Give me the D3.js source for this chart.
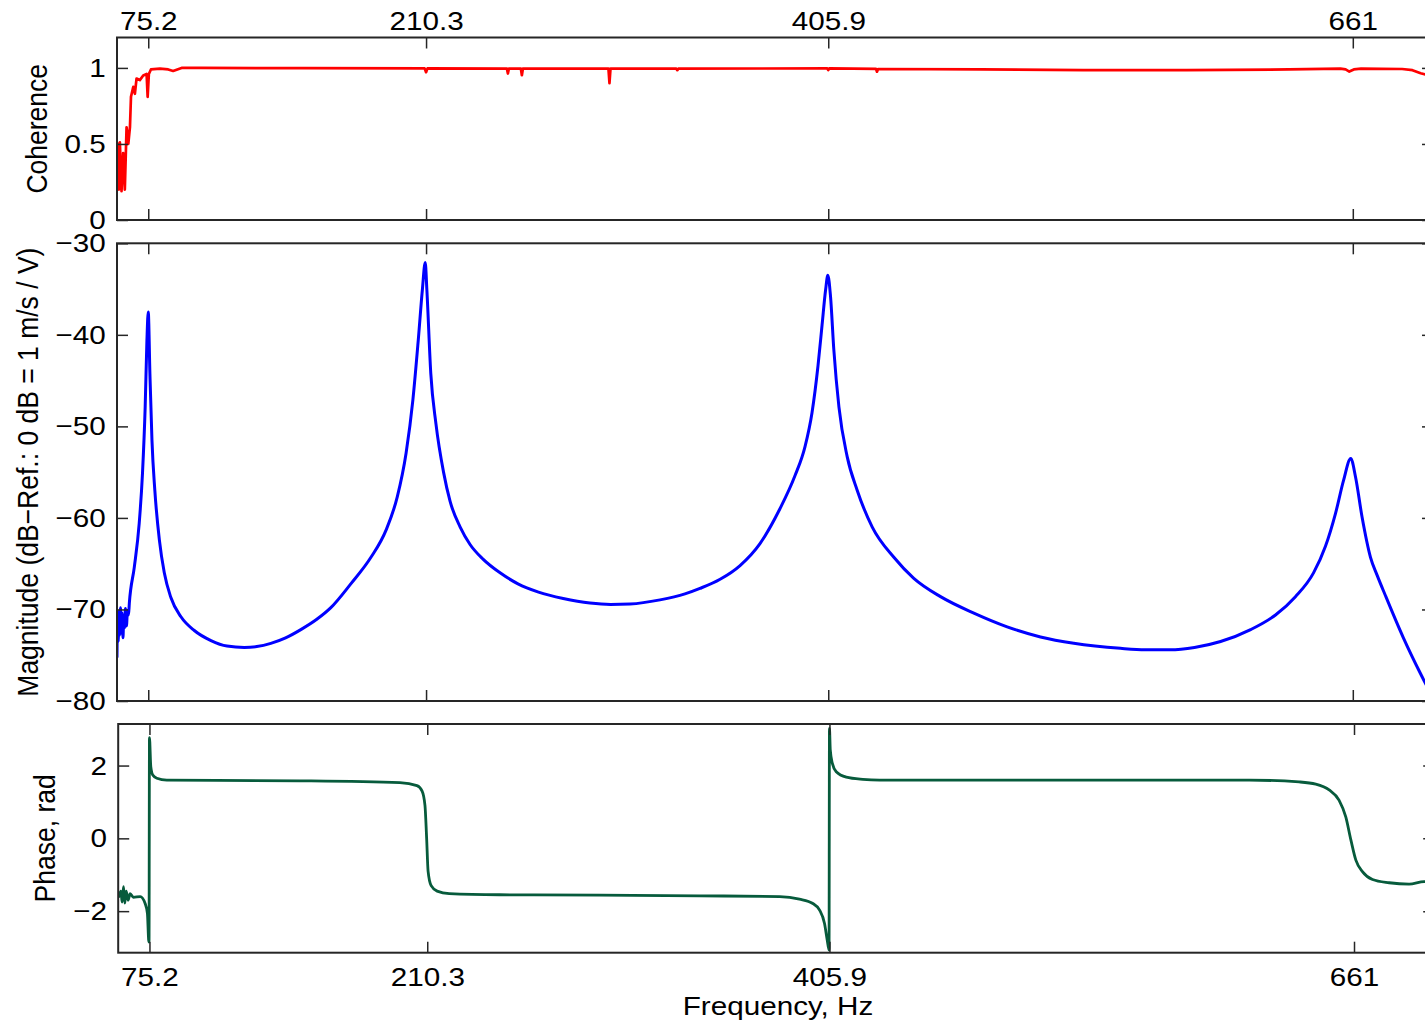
<!DOCTYPE html>
<html>
<head>
<meta charset="utf-8">
<script src="https://cdn.jsdelivr.net/npm/d3@7"></script>
<style>
  html, body { margin: 0; padding: 0; background: #fff; }
  svg { display: block; }
  text { font-family: "Liberation Sans", Arial, Helvetica, sans-serif; fill: #000; }
</style>
</head>
<body>
<svg id="chart" width="1425" height="1024"></svg>
<script>
// --- data ---
const xTicks = [75.2, 210.3, 405.9, 661];
const xTickLabels = ['75.2', '210.3', '405.9', '661'];

const cohTicks = [0, 0.5, 1];
const cohTickLabels = ['0', '0.5', '1'];
const magTicks = [-80, -70, -60, -50, -40, -30];
const magTickLabels = ['\u221280', '\u221270', '\u221260', '\u221250', '\u221240', '\u221230'];
const phaseTicks = [-2, 0, 2];
const phaseTickLabels = ['\u22122', '0', '2'];

const cohFreq = [60.3, 60.6, 60.9, 61.4, 62.2, 63.0, 63.8, 64.65, 65.5, 66.3, 66.8, 67.9, 68.7, 69.5,
  71.1, 72.75, 74.4, 74.9, 75.5, 76.5, 80.9, 84.9, 87.3, 91.4, 101.1, 150, 209.6, 210.3, 211.0,
  249.6, 250.1, 250.6, 256.4, 256.9, 257.4, 299.0, 299.5, 300.0, 332.0, 332.5, 333.0,
  405.4, 405.9, 406.4, 429.1, 429.6, 430.1, 480, 530, 580, 630, 655, 657.5, 659.3, 661.5,
  665, 685, 690, 694, 698];
const cohValue = [0.40, 0.50, 0.20, 0.51, 0.19, 0.44, 0.20, 0.61, 0.50, 0.61, 0.81, 0.875, 0.83, 0.93,
  0.92, 0.95, 0.96, 0.81, 0.96, 0.99, 0.995, 0.99, 0.98, 1.0, 1.0, 0.998, 0.997, 0.972, 0.997,
  0.996, 0.963, 0.996, 0.996, 0.952, 0.996, 0.995, 0.90, 0.995, 0.995, 0.985, 0.995,
  0.997, 0.985, 0.997, 0.994, 0.975, 0.993, 0.99, 0.985, 0.985, 0.99, 0.995, 0.99, 0.976, 0.99,
  0.995, 0.993, 0.985, 0.965, 0.95];

const magFreq = [60.0, 60.3, 60.6, 60.9, 61.3, 61.7, 62.1, 62.5, 62.9, 63.3, 63.7, 64.1, 64.6, 65.1,
  65.6, 66.0, 68.4, 70.8, 72.4, 73.7, 74.55, 75.2, 76.0, 77.0, 78.4, 80.6, 83.0, 86.2, 91.1, 97.6,
  105.7, 113.5, 121.9, 128.0, 134.8, 142.0, 149.4, 157.0, 164.0, 173.7, 183.5, 190.9, 196.3, 200.6,
  203.9, 206.5, 208.5, 209.9, 210.7, 212.6, 215.1, 218.8, 222.0, 226.9, 231.7, 238.0, 246.3, 255.0,
  265.0, 277.0, 290.0, 300.0, 309.5, 324.1, 336.2, 343.5, 353.3, 363.0, 372.7, 382.4, 389.7, 394.6,
  398.0, 400.9, 402.9, 404.6, 405.7, 407.0, 408.6, 411.1, 415.1, 420.0, 427.3, 437.8, 447.5, 460.5,
  476.7, 492.9, 509.1, 525.3, 548.0, 560.0, 572.0, 584.0, 596.7, 611.3, 623.4, 633.1, 641.9, 647.7,
  652.6, 656.5, 660.0, 662.3, 665.5, 669.6, 672.9, 676.9, 685.6, 693.9, 698.0];
const magDb = [-75.2, -71.0, -73.5, -70.2, -72.8, -69.8, -72.6, -70.4, -73.1, -70.9, -72.0, -69.9, -71.8, -70.1,
  -70.6, -69.3, -65.4, -60.6, -55.1, -47.9, -40.6, -37.5, -44.2, -51.5, -57.0, -62.4, -66.0, -68.7, -70.8, -72.3,
  -73.4, -74.0, -74.15, -74.05, -73.7, -73.1, -72.2, -71.1, -69.8, -67.2, -64.3, -61.3, -57.7, -52.9,
  -47.1, -40.6, -35.1, -32.1, -35.1, -44.2, -49.7, -55.0, -58.2, -61.0, -62.9, -64.5, -66.0, -67.2,
  -68.1, -68.8, -69.3, -69.45, -69.4, -68.95, -68.3, -67.7, -66.7, -65.2, -62.8, -59.0, -55.4, -52.2,
  -48.5, -43.4, -38.9, -35.1, -33.5, -35.8, -41.6, -47.9, -53.3, -57.0, -61.0, -64.3, -66.6, -68.6,
  -70.4, -71.9, -73.0, -73.7, -74.25, -74.4, -74.4, -74.15, -73.5, -72.2, -70.6, -68.6, -66.0, -63.1,
  -59.5, -55.9, -53.5, -55.5, -59.9, -64.3, -66.3, -68.5, -73.1, -77.0, -78.8];

const phaseFreq = [60.3, 61.3, 61.9, 62.6, 63.2, 63.9, 64.8, 65.8, 67.4, 70.7, 73.1, 74.2, 74.8, 75.0,
  75.2, 75.85, 76.8, 78.8, 83.6, 148.4, 197.0, 205.3, 207.8, 209.2, 210.0, 210.7, 212.2, 215.1, 221.0,
  245.4, 294.0, 342.6, 381.7, 391.3, 397.8, 401.1, 403.5, 404.8, 405.7, 405.9, 406.3, 407.3, 409.2,
  414.1, 422.1, 430.3, 488.5, 561.4, 610.0, 634.3, 642.4, 648.9, 653.7, 657.0, 659.5, 661.9, 665.2,
  670.0, 678.1, 687.8, 695.1, 698.0];
const phaseRad = [-1.60, -1.45, -1.75, -1.33, -1.78, -1.45, -1.70, -1.52, -1.62, -1.60, -1.79, -2.06, -2.79, -2.85,
  2.77, 1.97, 1.74, 1.65, 1.60, 1.58, 1.53, 1.45, 1.30, 0.90, 0.0, -0.90, -1.30, -1.45, -1.52,
  -1.55, -1.56, -1.58, -1.60, -1.67, -1.79, -1.97, -2.34, -2.79, -3.07, 3.02, 2.43, 2.06, 1.83,
  1.68, 1.62, 1.60, 1.60, 1.60, 1.60, 1.55, 1.49, 1.33, 1.05, 0.59, -0.05, -0.60, -0.92,
  -1.13, -1.22, -1.26, -1.19, -1.20];

// --- layout ---
const FONT = 26.5;     // px
const SX = 1.12;       // the reference text is stretched horizontally
const INK = '#262626';
const svg = d3.select('#chart');
const xBase = d3.scaleLinear().domain([60, 700]).range([117, 1433]);

const panels = [
  { id: 'coh', top: 37.5, bottom: 220, dx: 0, domain: [0, 1.2], ticks: cohTicks, tickLabels: cohTickLabels,
    freq: cohFreq, vals: cohValue, color: '#ff0000', width: 2.7, curve: d3.curveLinear,
    title: 'Coherence', titleX: 46.5, xLabels: 'top' },
  { id: 'mag', top: 243.3, bottom: 701, dx: 0, domain: [-80, -30], ticks: magTicks, tickLabels: magTickLabels,
    freq: magFreq, vals: magDb, color: '#0000ff', width: 3, curve: d3.curveMonotoneX,
    title: 'Magnitude (dB\u2212Ref.: 0 dB = 1 m/s / V)', titleX: 37.5, xLabels: null },
  // the bottom panel sits about a pixel further right in the reference
  { id: 'phase', top: 724, bottom: 952.7, dx: 1.2, domain: [-Math.PI, Math.PI], ticks: phaseTicks, tickLabels: phaseTickLabels,
    freq: phaseFreq, vals: phaseRad, color: '#075b3c', width: 2.8, curve: d3.curveMonotoneX,
    title: 'Phase, rad', titleX: 54.5, xLabels: 'bottom' },
];

function styleAxis(g) {
  g.select('.domain').remove();
  g.selectAll('.tick line').attr('stroke', INK).attr('stroke-width', 1.5);
  g.selectAll('.tick text')
    .attr('font-size', FONT)
    .attr('fill', '#000')
    .attr('transform', `scale(${SX},1)`);
}

panels.forEach((p) => {
  const x = xBase.copy().range(xBase.range().map((v) => v + p.dx));
  const [x0, x1] = x.range();
  const y = d3.scaleLinear().domain(p.domain).range([p.bottom, p.top]);
  const g = svg.append('g').attr('class', `panel-${p.id}`);

  g.append('clipPath').attr('id', `clip-${p.id}`)
    .append('rect')
    .attr('x', x0).attr('y', p.top)
    .attr('width', x1 - x0).attr('height', p.bottom - p.top);

  const line = d3.line()
    .x((d) => x(d[0]))
    .y((d) => y(d[1]))
    .curve(p.curve);

  g.append('path')
    .datum(d3.zip(p.freq, p.vals))
    .attr('clip-path', `url(#clip-${p.id})`)
    .attr('fill', 'none')
    .attr('stroke', p.color)
    .attr('stroke-width', p.width)
    .attr('stroke-linejoin', 'round')
    .attr('stroke-linecap', 'round')
    .attr('d', line);

  // y ticks, pointing inward on both sides
  g.append('g')
    .attr('transform', `translate(${x0},0)`)
    .call(d3.axisLeft(y).tickValues(p.ticks).tickFormat((d, i) => p.tickLabels[i])
      .tickSizeInner(-11).tickSizeOuter(0).tickPadding(10))
    .call(styleAxis);
  g.append('g')
    .attr('transform', `translate(${x1},0)`)
    .call(d3.axisRight(y).tickValues(p.ticks).tickFormat('')
      .tickSizeInner(-11).tickSizeOuter(0))
    .call(styleAxis);

  // x ticks on top and bottom edges of every panel
  g.append('g')
    .attr('transform', `translate(0,${p.top})`)
    .call(d3.axisTop(x).tickValues(xTicks)
      .tickFormat(p.xLabels === 'top' ? (d, i) => xTickLabels[i] : '')
      .tickSizeInner(-11).tickSizeOuter(0).tickPadding(8))
    .call(styleAxis);
  g.append('g')
    .attr('transform', `translate(0,${p.bottom})`)
    .call(d3.axisBottom(x).tickValues(xTicks)
      .tickFormat(p.xLabels === 'bottom' ? (d, i) => xTickLabels[i] : '')
      .tickSizeInner(-11).tickSizeOuter(0).tickPadding(14))
    .call(styleAxis);

  g.append('rect')
    .attr('x', x0).attr('y', p.top)
    .attr('width', x1 - x0).attr('height', p.bottom - p.top)
    .attr('fill', 'none')
    .attr('stroke', INK)
    .attr('stroke-width', 2);

  g.append('text')
    .attr('transform', `translate(${p.titleX},${(p.top + p.bottom) / 2}) scale(${SX},1) rotate(-90)`)
    .attr('text-anchor', 'middle')
    .attr('font-size', FONT)
    .text(p.title);
});

svg.append('text')
  .attr('transform', `translate(778,1015) scale(${SX},1)`)
  .attr('text-anchor', 'middle')
  .attr('font-size', FONT)
  .text('Frequency, Hz');
</script>
</body>
</html>
